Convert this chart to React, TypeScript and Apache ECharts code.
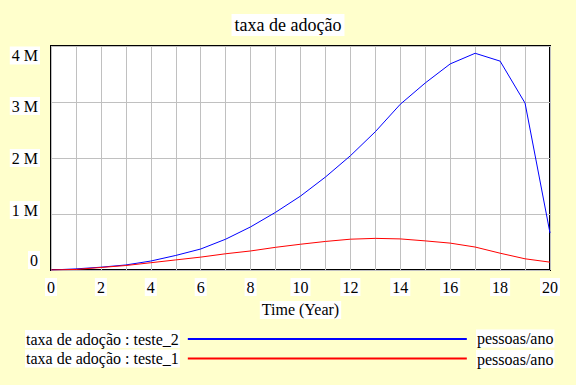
import React, { useEffect, useRef } from 'react';
import * as echarts from 'echarts';

const years = [0, 1, 2, 3, 4, 5, 6, 7, 8, 9, 10, 11, 12, 13, 14, 15, 16, 17, 18, 19, 20];
const teste2 = [0, 20000, 50000, 90000, 160000, 260000, 375000, 550000, 770000, 1030000, 1320000, 1660000, 2040000, 2470000, 2960000, 3340000, 3680000, 3870000, 3730000, 2980000, 660000];
const teste1 = [0, 10000, 45000, 80000, 130000, 180000, 230000, 290000, 340000, 405000, 460000, 510000, 550000, 565000, 555000, 520000, 480000, 410000, 300000, 200000, 140000];
const seriesNames = ['taxa de adoção : teste_2', 'taxa de adoção : teste_1'];
const seriesColors = ['#0000ff', '#ff0000'];
const unitLabel = 'pessoas/ano';
const titleText = 'taxa de adoção';
const xAxisName = 'Time (Year)';

const FONT = 'Liberation Serif';

export default function App() {
  const ref = useRef<HTMLDivElement>(null);
  useEffect(() => {
    if (!ref.current) return;
    const chart = echarts.init(ref.current, null, { renderer: 'svg' });
    const yTok = (v: number) => `y${Math.round(v / 1000000)}`;
    const tokBase = { fontFamily: FONT, fontSize: 16, color: '#000', backgroundColor: '#fff', padding: [1, 2] };
    chart.setOption({
      animation: false,
      backgroundColor: '#ffffcc',
      textStyle: { fontFamily: FONT },
      title: {
        text: titleText,
        left: 'center',
        top: 14,
        padding: [2, 3],
        backgroundColor: '#fff',
        textStyle: { fontFamily: FONT, fontSize: 18, fontWeight: 'normal', color: '#000' },
      },
      grid: {
        left: 51, top: 46, right: 26, bottom: 115,
        show: true, backgroundColor: '#fff', borderColor: '#000', borderWidth: 2,
      },
      xAxis: {
        type: 'value', min: 0, max: 20, interval: 1,
        axisLine: { show: false }, axisTick: { show: false },
        splitLine: { show: true, lineStyle: { color: '#c0c0c0', width: 1 } },
        axisLabel: {
          margin: 8,
          fontFamily: FONT,
          formatter: (v: number) => (v % 2 === 0 ? `{b|${v}}` : ''),
          rich: { b: tokBase },
        },
        name: xAxisName,
        nameLocation: 'middle',
        nameGap: 28,
        nameTextStyle: { fontFamily: FONT, fontSize: 16, color: '#000', backgroundColor: '#fff', padding: [1, 2] },
      },
      yAxis: {
        type: 'value', min: 0, max: 4000000, interval: 1000000,
        axisLine: { show: false }, axisTick: { show: false },
        splitLine: { show: true, lineStyle: { color: '#c0c0c0', width: 1 } },
        axisLabel: {
          margin: 11,
          fontFamily: FONT,
          formatter: (v: number) => `{${yTok(v)}|${v === 0 ? '0' : v / 1000000 + ' M'}}`,
          rich: {
            y4: { ...tokBase, lineHeight: 37, verticalAlign: 'bottom' },
            y3: { ...tokBase, lineHeight: 26, verticalAlign: 'bottom' },
            y2: { ...tokBase },
            y1: { ...tokBase, lineHeight: 26, verticalAlign: 'top' },
            y0: { ...tokBase, lineHeight: 38, verticalAlign: 'top' },
          },
        },
      },
      legend: {
        orient: 'vertical', left: 25, top: 330, itemGap: 1.5, padding: 0,
        align: 'right', icon: 'rect', itemWidth: 279, itemHeight: 2,
        selectedMode: false,
        data: seriesNames,
        formatter: (n: string) => `{t|${n}}{g|}`,
        textStyle: {
          fontFamily: FONT,
          rich: {
            t: { fontFamily: FONT, fontSize: 16, color: '#000', backgroundColor: '#fff', padding: [1, 1] },
            g: { width: 3 },
          },
        },
      },
      graphic: seriesNames.map((_, i) => ({
        type: 'text', left: 476, top: 329.5 + i * 20.6,
        style: { text: unitLabel, fontFamily: FONT, fontSize: 16, fill: '#000', backgroundColor: '#fff', padding: [1, 1] },
      })),
      series: [
        {
          name: seriesNames[0], type: 'line', symbol: 'none',
          data: years.map((x, i) => [x, teste2[i]]),
          lineStyle: { color: seriesColors[0], width: 1 }, itemStyle: { color: seriesColors[0] },
        },
        {
          name: seriesNames[1], type: 'line', symbol: 'none',
          data: years.map((x, i) => [x, teste1[i]]),
          lineStyle: { color: seriesColors[1], width: 1 }, itemStyle: { color: seriesColors[1] },
        },
      ],
    });
    return () => chart.dispose();
  }, []);
  return <div ref={ref} style={{ position: 'fixed', left: 0, top: 0, width: 576, height: 385 }} />;
}
